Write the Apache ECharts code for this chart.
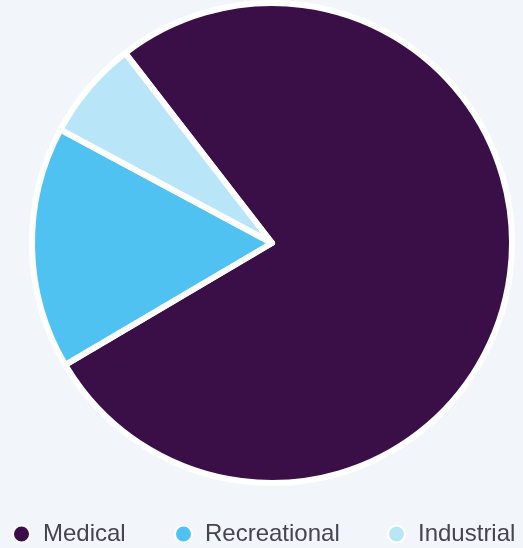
<!DOCTYPE html>
<html>
<head>
<meta charset="utf-8">
<script src="https://cdn.jsdelivr.net/npm/echarts@6/dist/echarts.min.js"></script>
<style>
  html, body { margin: 0; padding: 0; background: #f2f5fa; }
  #chart { width: 523px; height: 548px; }
</style>
</head>
<body>
<div id="chart"></div>
<script>
// Market share by segment (%)
const categories = ['Medical', 'Recreational', 'Industrial'];
const shares = [77.0, 16.3, 6.7];
const colors = ['#3a0f48', '#50c2f1', '#b9e5f8'];

// left offset of each legend entry along the bottom row
const legendLefts = [12, 174, 387];

const chart = echarts.init(document.getElementById('chart'), null, { renderer: 'canvas' });

chart.setOption({
  backgroundColor: '#f2f5fa',
  animation: false,
  color: colors,
  legend: categories.map((name, i) => ({
    data: [name],
    left: legendLefts[i],
    top: 522,
    padding: 0,
    icon: 'circle',
    itemWidth: 17,
    itemHeight: 17,
    textStyle: {
      fontFamily: 'Liberation Sans, Arial, sans-serif',
      fontSize: 24,
      color: '#45454f',
      padding: [0, 0, 0, 8]
    }
  })),
  series: [{
    type: 'pie',
    center: [272, 243],
    radius: 240,
    startAngle: 127.7,
    clockwise: true,
    label: { show: false },
    labelLine: { show: false },
    emphasis: { disabled: true },
    itemStyle: { borderColor: '#ffffff', borderWidth: 6 },
    data: categories.map((name, i) => ({ name, value: shares[i] }))
  }]
});
</script>
</body>
</html>
